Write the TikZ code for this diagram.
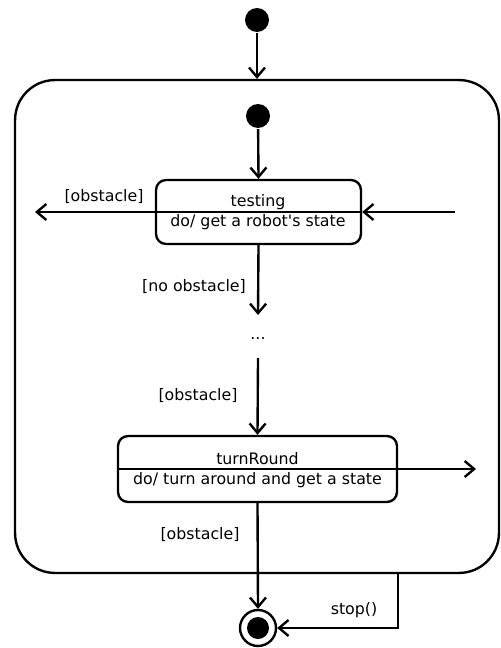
\documentclass[tikz,border=0pt]{standalone}
\usepackage{fontspec}
\setmainfont{DejaVu Sans}[Ligatures=TeXOff]
\usetikzlibrary{arrows.meta}
\begin{document}
\begin{tikzpicture}[x=0.02cm,y=-0.02cm,
  line width=1.35pt,
  font=\fontsize{9}{11}\selectfont,
  arr/.style={-{Straight Barb[length=0.19cm,width=0.32cm,line width=1.35pt]}},
  initial/.style={circle,fill=black,inner sep=0pt,minimum size=0.48cm},
  statebox/.style={draw,rounded corners=0.2cm,inner sep=0pt},
  lbl/.style={inner sep=0pt}
]
\useasboundingbox (0,0) rectangle (500,648);

% composite state frame
\node (outer) [draw,rounded corners=0.8cm,minimum width=9.68cm,minimum height=9.86cm,inner sep=0pt] at (257,326.5) {};

% initial pseudostates
\node (init1) [initial] at (257,20) {};
\node (init2) [initial] at (258,116) {};

% simple states
\node (testing) [statebox,minimum width=4.1cm,minimum height=1.28cm] at (258.5,212) {};
\node (testingname) [lbl] at (258,202) {testing};
\node (testingdo) [lbl] at (258,222.5) {do/ get a robot's state};

\node (turn) [statebox,minimum width=5.58cm,minimum height=1.32cm] at (257.5,469) {};
\node (turnname) [lbl] at (257.5,459) {turnRound};
\node (turndo) [lbl] at (257.5,480) {do/ turn around and get a state};

% final state
\node (final) [circle,draw,fill=white,inner sep=0pt,minimum size=0.72cm] at (258,628) {};
\node (finaldot) [circle,fill=black,inner sep=0pt,minimum size=0.44cm] at (258,628) {};

% ellipsis
\node (dots) [lbl,anchor=base] at (258,339) {...};

% free ends of transitions
\coordinate (tin) at (455,212);
\coordinate (tout) at (35,212);
\coordinate (dotsin) at (258,315);
\coordinate (dotsout) at (258,358);
\coordinate (rout) at (476,469);
\coordinate (stopstart) at (398,573);

% transitions
\draw[arr] (init1) -- (init1 |- outer.north);
\draw[arr] (init2) -- (testing.north);
\draw[arr] (tin) -- (tin -| testing.east);
\draw[arr] (tin -| testing.east) -- (tout);
\draw[arr] (testing.south) -- (dotsin);
\draw[arr] (dotsout) -- (turn.north);
\draw[arr] (turn.west |- rout) -- (rout);
\draw[arr] (turn.south) -- (final.north);
\draw[arr] (stopstart) |- (final.east);

% guards and events
\node[lbl] at (104,197) {[obstacle]};
\node[lbl] at (194,287) {[no obstacle]};
\node[lbl] at (198,396) {[obstacle]};
\node[lbl] at (200,535) {[obstacle]};
\node[lbl] at (354,610) {stop()};
\end{tikzpicture}
\end{document}
